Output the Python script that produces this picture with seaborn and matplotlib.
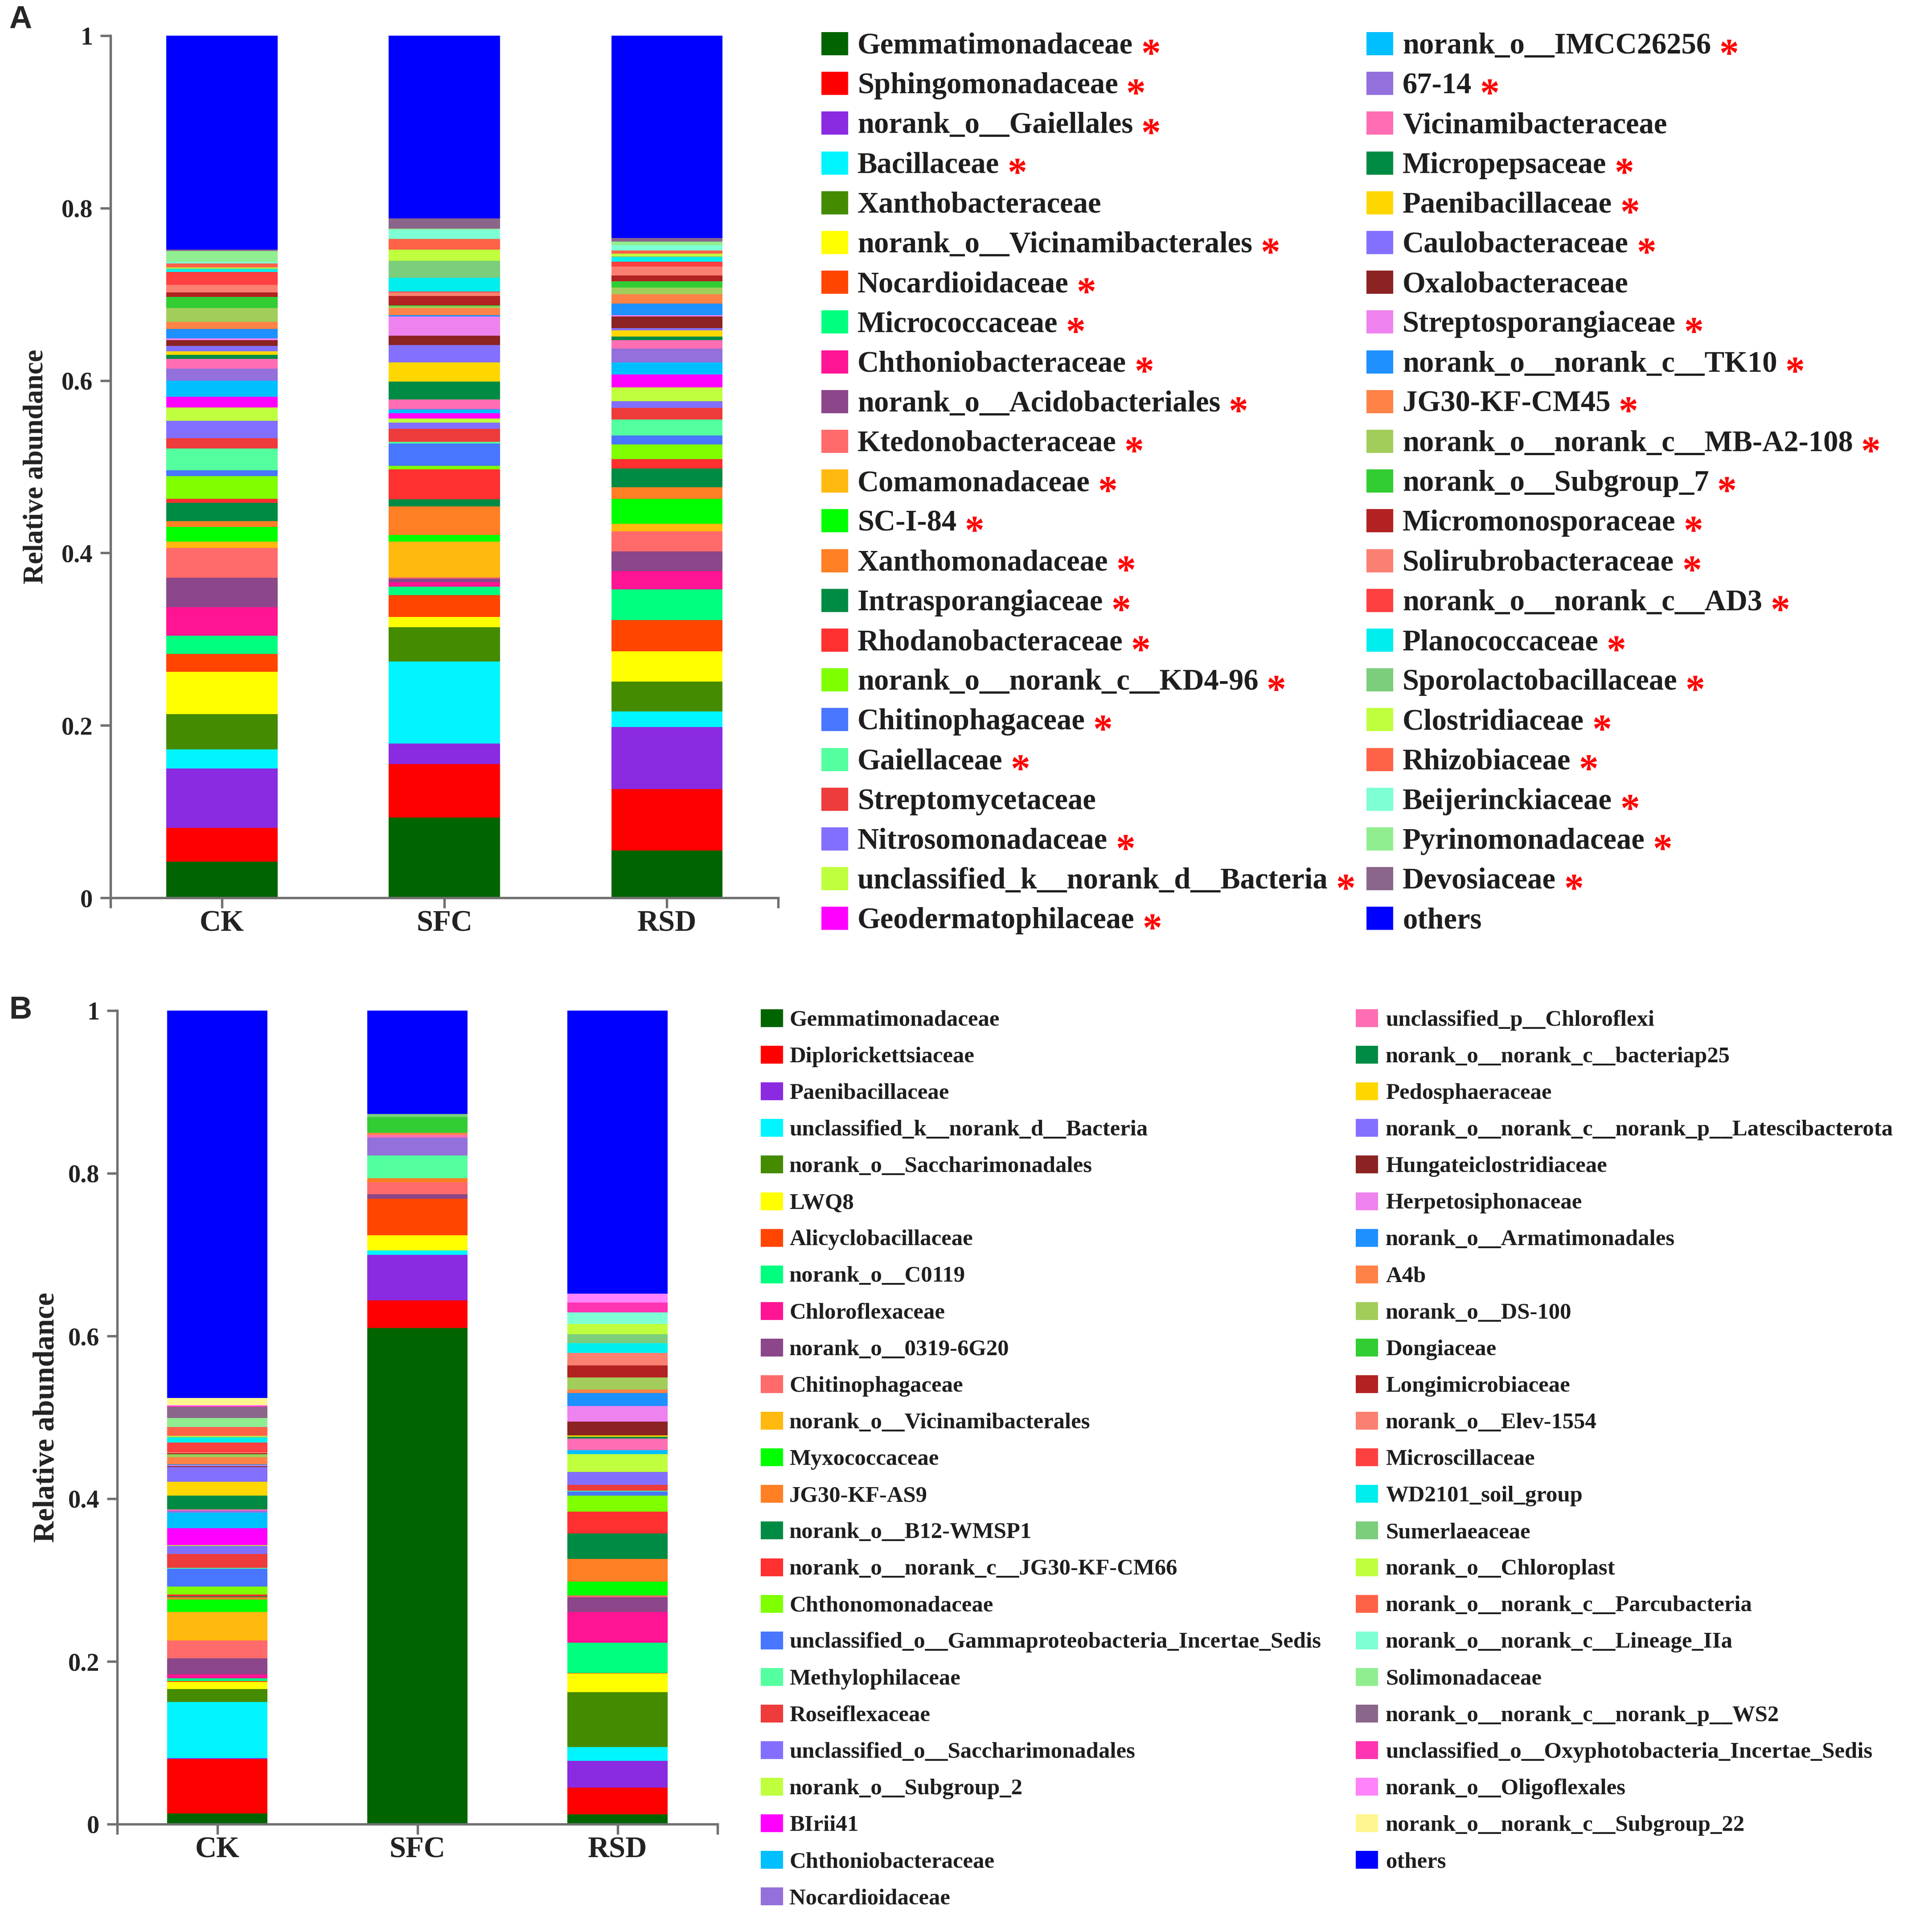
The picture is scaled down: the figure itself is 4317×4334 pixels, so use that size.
import numpy as np
import pandas as pd
import matplotlib
matplotlib.use("Agg")
import matplotlib.pyplot as plt
from matplotlib.patches import Rectangle
import seaborn as sns

samples = ["CK", "SFC", "RSD"]

palette = [
    "#006400", "#FF0000", "#8A2BE2", "#00F5FF", "#458B00", "#FFFF00", "#FF4500", "#00FF7F",
    "#FF1493", "#8B4789", "#FF6A6A", "#FFB90F", "#00FF00", "#FF7F24", "#008B45", "#FF3030",
    "#7FFF00", "#4876FF", "#54FF9F", "#EE3B3B", "#836FFF", "#C0FF3E", "#FF00FF", "#00BFFF",
    "#9370DB", "#FF6EB4", "#008B45", "#FFD700", "#8470FF", "#8B2323", "#EE82EE", "#1E90FF",
    "#FF8247", "#A2CD5A", "#32CD32", "#B22222", "#FA8072", "#FF4040", "#00EEEE", "#7CCD7C",
    "#C0FF3E", "#FF6347", "#7FFFD4", "#90EE90", "#8B668B", "#FF34B3", "#FF83FA", "#FFF68F",
]
others_color = "#0000FF"

# ---- panel A ----
taxa_a = [
    "Gemmatimonadaceae", "Sphingomonadaceae", "norank_o__Gaiellales", "Bacillaceae",
    "Xanthobacteraceae", "norank_o__Vicinamibacterales", "Nocardioidaceae", "Micrococcaceae",
    "Chthoniobacteraceae", "norank_o__Acidobacteriales", "Ktedonobacteraceae", "Comamonadaceae",
    "SC-I-84", "Xanthomonadaceae", "Intrasporangiaceae", "Rhodanobacteraceae",
    "norank_o__norank_c__KD4-96", "Chitinophagaceae", "Gaiellaceae", "Streptomycetaceae",
    "Nitrosomonadaceae", "unclassified_k__norank_d__Bacteria", "Geodermatophilaceae",
    "norank_o__IMCC26256", "67-14", "Vicinamibacteraceae", "Micropepsaceae", "Paenibacillaceae",
    "Caulobacteraceae", "Oxalobacteraceae", "Streptosporangiaceae", "norank_o__norank_c__TK10",
    "JG30-KF-CM45", "norank_o__norank_c__MB-A2-108", "norank_o__Subgroup_7", "Micromonosporaceae",
    "Solirubrobacteraceae", "norank_o__norank_c__AD3", "Planococcaceae", "Sporolactobacillaceae",
    "Clostridiaceae", "Rhizobiaceae", "Beijerinckiaceae", "Pyrinomonadaceae", "Devosiaceae",
    "others",
]
not_significant_a = ["Xanthobacteraceae", "Streptomycetaceae", "Vicinamibacteraceae",
                     "Oxalobacteraceae", "others"]

ck_a = [.042, .039, .069, .022, .041, .049, .021, .021, .033, .034, .035, .007, .017, .007, .021,
        .005, .026, .007, .025, .012, .020, .016, .012, .019, .014, .011, .005, .004, .006, .007,
        .002, .011, .008, .016, .013, .005, .009, .015, .003, .001, .001, .005, .002, .012, .002,
        .248]
sfc_a = [.093, .062, .024, .095, .040, .012, .025, .010, .005, .004, .002, .041, .008, .033, .008,
         .035, .004, .026, .002, .015, .007, .005, .006, .004, .001, .011, .021, .022, .020, .011,
         .022, .002, .008, .002, .001, .011, .004, .001, .016, .020, .013, .012, .011, .001, .012,
         .212]
rsd_a = [.055, .071, .072, .018, .035, .035, .036, .036, .021, .023, .023, .009, .029, .013, .022,
         .011, .017, .010, .019, .013, .008, .016, .015, .014, .016, .010, .004, .007, .003, .013,
         .002, .013, .011, .008, .007, .007, .010, .006, .005, .001, .003, .004, .006, .004, .004,
         .235]

# ---- panel B ----
taxa_b = [
    "Gemmatimonadaceae", "Diplorickettsiaceae", "Paenibacillaceae",
    "unclassified_k__norank_d__Bacteria", "norank_o__Saccharimonadales", "LWQ8",
    "Alicyclobacillaceae", "norank_o__C0119", "Chloroflexaceae", "norank_o__0319-6G20",
    "Chitinophagaceae", "norank_o__Vicinamibacterales", "Myxococcaceae", "JG30-KF-AS9",
    "norank_o__B12-WMSP1", "norank_o__norank_c__JG30-KF-CM66", "Chthonomonadaceae",
    "unclassified_o__Gammaproteobacteria_Incertae_Sedis", "Methylophilaceae", "Roseiflexaceae",
    "unclassified_o__Saccharimonadales", "norank_o__Subgroup_2", "BIrii41", "Chthoniobacteraceae",
    "Nocardioidaceae",
    "unclassified_p__Chloroflexi", "norank_o__norank_c__bacteriap25", "Pedosphaeraceae",
    "norank_o__norank_c__norank_p__Latescibacterota", "Hungateiclostridiaceae",
    "Herpetosiphonaceae", "norank_o__Armatimonadales", "A4b", "norank_o__DS-100", "Dongiaceae",
    "Longimicrobiaceae", "norank_o__Elev-1554", "Microscillaceae", "WD2101_soil_group",
    "Sumerlaeaceae", "norank_o__Chloroplast", "norank_o__norank_c__Parcubacteria",
    "norank_o__norank_c__Lineage_IIa", "Solimonadaceae", "norank_o__norank_c__norank_p__WS2",
    "unclassified_o__Oxyphotobacteria_Incertae_Sedis", "norank_o__Oligoflexales",
    "norank_o__norank_c__Subgroup_22", "others",
]
ck_b = [.013, .067, .001, .069, .016, .009, .001, .003, .005, .020, .022, .035, .015, .003, .001,
        .002, .010, .022, .001, .017, .010, .001, .021, .019, .002, .002, .017, .017, .018, .001,
        .001, .001, .009, .003, .001, .001, .001, .012, .006, .001, .001, .011, .001, .010, .014,
        .001, .001, .009, .476]
sfc_b = [.610, .034, .056, .005, 0, .019, .045, 0, 0, .005, .015, 0, 0, .005, 0, 0, 0, 0, .028,
         0, 0, 0, 0, 0, .022, .003, 0, 0, 0, 0, 0, 0, .003, 0, .019, 0, 0, 0, 0, .004, 0, 0, 0, 0,
         0, 0, 0, 0, .127]
rsd_b = [.012, .033, .033, .017, .067, .023, .001, .037, .038, .018, .002, 0, .017, .028, .031,
         .027, .020, .005, .001, .007, .016, .022, 0, .005, 0, .014, .002, .002, 0, .017, .019,
         .016, .004, .015, 0, .015, .015, 0, .012, .011, .013, 0, .014, 0, 0, .012, .011, 0, .348]

colors_a = palette[:len(taxa_a) - 1] + [others_color]
colors_b = palette[:len(taxa_b) - 1] + [others_color]

W, H = 4317, 4334
DPI = 300
axis_grey = "#707070"

sns.set_style("ticks")
plt.rcParams["font.family"] = ["Liberation Serif", "DejaVu Serif"]
plt.rcParams["font.weight"] = "bold"
plt.rcParams["axes.labelweight"] = "bold"


def fx(x):
    return x / W


def fy(y):
    return 1 - y / H


def stacked_bars(ax, taxa, ck, sfc, rsd, colors):
    df = pd.DataFrame({"taxon": taxa, "CK": ck, "SFC": sfc, "RSD": rsd})
    long = df.melt(id_vars="taxon", var_name="sample", value_name="abundance")
    base = np.zeros(len(samples))
    for taxon, col in zip(taxa, colors):
        sub = long[long["taxon"] == taxon].set_index("sample").loc[samples].reset_index()
        sns.barplot(data=sub, x="sample", y="abundance", order=samples, color=col,
                    saturation=1, width=0.5, errorbar=None, bottom=base, linewidth=0, ax=ax)
        base = base + sub["abundance"].to_numpy()


def style_axes(ax, label_x, label_size):
    ax.set_xlim(-0.5, 2.5)
    ax.set_ylim(0, 1)
    ax.set_yticks([0, 0.2, 0.4, 0.6, 0.8, 1])
    ax.set_yticklabels(["0", "0.2", "0.4", "0.6", "0.8", "1"])
    ax.set_xticks([-0.5, 2.5], minor=True)
    for s in ("top", "right"):
        ax.spines[s].set_visible(False)
    for s in ("left", "bottom"):
        ax.spines[s].set_color(axis_grey)
        ax.spines[s].set_linewidth(1.3)
    ax.tick_params(which="both", direction="out", length=5.5, width=1.3, color=axis_grey)
    ax.tick_params(axis="y", labelsize=13.5, pad=4, labelcolor="#222222")
    ax.tick_params(axis="x", labelsize=16, pad=1, labelcolor="#222222")
    ax.set_xlabel("")
    ax.set_ylabel("Relative abundance", fontsize=label_size, color="#222222")
    ax.yaxis.set_label_coords(label_x, 0.5)


def draw_legend(fig, names, colors, col_split, x_box, x_text, y0, step, box_w, box_h, size):
    texts = []
    for i, (name, col) in enumerate(zip(names, colors)):
        c = 0 if i < col_split else 1
        r = i if i < col_split else i - col_split
        y = y0 + r * step
        fig.add_artist(Rectangle((fx(x_box[c]), fy(y + box_h / 2)), box_w / W, box_h / H,
                                 transform=fig.transFigure, facecolor=col, edgecolor="none"))
        em = size * DPI / 72
        t = fig.text(fx(x_text[c]), fy(y + 0.33 * em), name, fontsize=size, fontweight="bold",
                     ha="left", va="baseline", color="#1E1E1E")
        texts.append((t, y, em))
    return texts


fig = plt.figure(figsize=(W / DPI, H / DPI), dpi=DPI)

ax_a = fig.add_axes([fx(248), fy(2014), 1498 / W, 1934 / H])
stacked_bars(ax_a, taxa_a, ck_a, sfc_a, rsd_a, colors_a)
style_axes(ax_a, -0.092, 15)

ax_b = fig.add_axes([fx(263), fy(4092), 1347 / W, 1825 / H])
stacked_bars(ax_b, taxa_b, ck_b, sfc_b, rsd_b, colors_b)
style_axes(ax_b, -0.095, 16)

fig.text(fx(20), fy(12), "A", fontsize=17, fontweight="bold", family="Liberation Sans",
         ha="left", va="top")
fig.text(fx(20), fy(2234), "B", fontsize=17, fontweight="bold", family="Liberation Sans",
         ha="left", va="top")

leg_a = draw_legend(fig, taxa_a, colors_a, 23, (1843, 3066), (1924, 3147), 98, 89.2, 60, 52, 16)
draw_legend(fig, taxa_b, colors_b, 25, (1707, 3042), (1771, 3109), 2284, 82.1, 50, 40, 12.2)

# red significance asterisks after the panel A labels
fig.canvas.draw()
renderer = fig.canvas.get_renderer()
ast_size = 21
ast_em = ast_size * DPI / 72
for (t, y, em), name in zip(leg_a, taxa_a):
    if name in not_significant_a:
        continue
    bb = t.get_window_extent(renderer)
    base = y + 0.33 * em - 0.23 * em + 0.48 * ast_em
    fig.text((bb.x1 + 18) / W, fy(base), "*", fontsize=ast_size, fontweight="bold",
             color="#FF0000", ha="left", va="baseline")

fig.savefig("out.png", dpi=DPI)
